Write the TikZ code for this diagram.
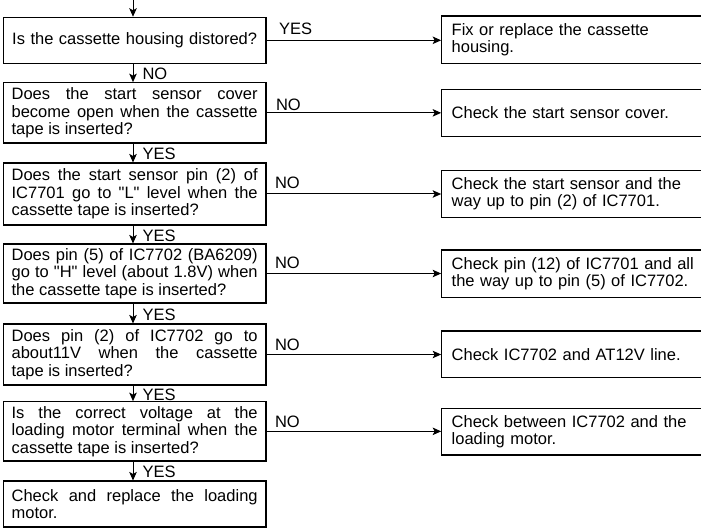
\documentclass[tikz,border=0pt]{standalone}
\usepackage{fontspec}
\setmainfont{Liberation Sans}[Ligatures=TeXOff]
\usetikzlibrary{arrows.meta}
\begin{document}
\begin{tikzpicture}[x=1pt,y=-1pt,
  every node/.style={font=\fontsize{16.5}{17.5}\selectfont},
  qbox/.style={draw, line width=1.1pt, text width=246pt, inner xsep=8.35pt, inner ysep=0pt, align=justify, minimum width=262.7pt},
  abox/.style={draw, line width=1.1pt, text width=255pt, inner xsep=10pt, inner ysep=0pt, align=left, minimum width=275pt},
  conn/.style={line width=1pt, -{Stealth[length=8.5pt,width=7.5pt,inset=2pt]}},
  vlab/.style={anchor=west, inner sep=0pt, xshift=9pt, yshift=-1pt},
  hlab/.style={anchor=south west, inner sep=0pt, pos=0}
]
\useasboundingbox (0,0) rectangle (701,529);
\coordinate (top) at (133,0);

\node[qbox, align=center, minimum height=46pt] (q1) at (134.65,40.3) {Is the cassette housing distored?};
\node[qbox, minimum height=60.3pt] (q2) at (134.65,112.85) {Does the start sensor cover\linebreak become open when the cassette\linebreak tape is inserted?};
\node[qbox, minimum height=62pt] (q3) at (134.65,194) {Does the start sensor pin (2) of\linebreak IC7701 go to "L" level when the\linebreak cassette tape is inserted?};
\node[qbox, minimum height=59pt] (q4) at (134.65,273.5) {Does pin (5) of IC7702 (BA6209)\linebreak go to "H" level (about 1.8V) when\linebreak the cassette tape is inserted?};
\node[qbox, minimum height=61pt] (q5) at (134.65,354.5) {Does pin (2) of IC7702 go to\linebreak about11V when the cassette\linebreak tape is inserted?};
\node[qbox, minimum height=59.3pt] (q6) at (134.65,431.35) {Is the correct voltage at the\linebreak loading motor terminal when the\linebreak cassette tape is inserted?};
\node[qbox, minimum height=46pt] (q7) at (134.65,504) {Check and replace the loading\linebreak motor.};

\node[abox, minimum height=47.3pt] (a1) at (579.2,39.65) {Fix or replace the cassette\\housing.};
\node[abox, minimum height=47.4pt] (a2) at (579.2,113) {Check the start sensor cover.};
\node[abox, minimum height=46.8pt] (a3) at (579.2,193.9) {Check the start sensor and the\\way up to pin (2) of IC7701.};
\node[abox, minimum height=47.3pt] (a4) at (579.2,273.65) {Check pin (12) of IC7701 and all\\the way up to pin (5) of IC7702.};
\node[abox, minimum height=46.3pt] (a5) at (579.2,354.15) {Check IC7702 and AT12V line.};
\node[abox, minimum height=46.3pt] (a6) at (579.2,431.85) {Check between IC7702 and the\\loading motor.};

\draw[conn] (top) -- (q1.north -| top);
\draw[conn] (q1.south -| top) -- node[vlab]{NO} (q2.north -| top);
\draw[conn] (q2.south -| top) -- node[vlab]{YES} (q3.north -| top);
\draw[conn] (q3.south -| top) -- node[vlab]{YES} (q4.north -| top);
\draw[conn] (q4.south -| top) -- node[vlab]{YES} (q5.north -| top);
\draw[conn] (q5.south -| top) -- node[vlab]{YES} (q6.north -| top);
\draw[conn] (q6.south -| top) -- node[vlab]{YES} (q7.north -| top);

\draw[conn] (q1.east) -- node[hlab, xshift=12pt, yshift=5pt]{YES} (a1.west |- q1.east);
\draw[conn] (q2.east) -- node[hlab, xshift=9pt, yshift=2pt]{NO} (a2.west |- q2.east);
\draw[conn] (q3.east) -- node[hlab, xshift=8pt, yshift=5pt]{NO} (a3.west |- q3.east);
\draw[conn] (q4.east) -- node[hlab, xshift=8pt, yshift=4pt]{NO} (a4.west |- q4.east);
\draw[conn] (q5.east) -- node[hlab, xshift=8pt, yshift=3pt]{NO} (a5.west |- q5.east);
\draw[conn] (q6.east) -- node[hlab, xshift=8pt, yshift=3pt]{NO} (a6.west |- q6.east);
\end{tikzpicture}
\end{document}
